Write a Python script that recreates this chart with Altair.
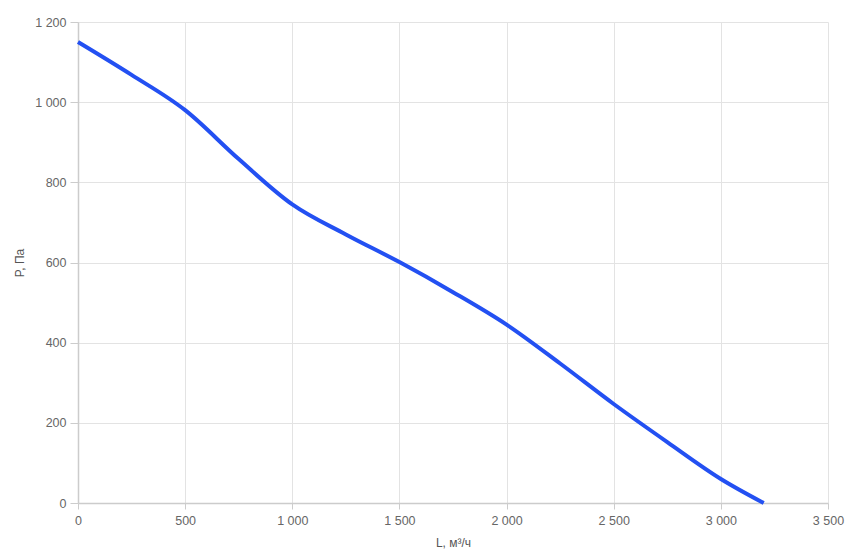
import altair as alt
import pandas as pd

L = [0, 250, 500, 750, 1000, 1250, 1500, 1750, 2000, 2250, 2500, 2750, 3000, 3200]
P = [1150, 1068, 980, 858, 745, 670, 601, 526, 445, 348, 247, 152, 60, 0]

df = pd.DataFrame({"L": L, "P": P})

fmt = "replace(format(datum.value, ','), ',', ' ')"

chart = alt.Chart(df).mark_line(
    color="#2350F2", strokeWidth=4, interpolate="monotone"
).encode(
    x=alt.X("L:Q", scale=alt.Scale(domain=[0, 3500], nice=False),
            axis=alt.Axis(title="L, м³/ч", values=[0, 500, 1000, 1500, 2000, 2500, 3000, 3500],
                          labelExpr=fmt, tickSize=6, labelPadding=5, titlePadding=11,
                          labelFlush=False)),
    y=alt.Y("P:Q", scale=alt.Scale(domain=[0, 1200], nice=False),
            axis=alt.Axis(title="P, Па", values=[0, 200, 400, 600, 800, 1000, 1200],
                          labelExpr=fmt, tickSize=8, labelPadding=4, titlePadding=8,
                          labelFlush=False)),
).properties(
    width=750, height=481,
    padding={"left": 70, "top": 14, "right": 20, "bottom": 50},
    autosize=alt.AutoSizeParams(type="none"),
).configure_view(
    stroke=None
).configure_axis(
    gridColor="#e3e3e3", domainColor="#cccccc", tickColor="#cccccc",
    labelColor="#666666", labelFont="Liberation Sans", labelFontSize=12.5,
    titleColor="#555555", titleFont="Liberation Sans", titleFontSize=12, titleFontWeight="normal",
    domainWidth=1.5,
)

chart.save("out.html", embed_options={"renderer": "svg", "actions": False})
